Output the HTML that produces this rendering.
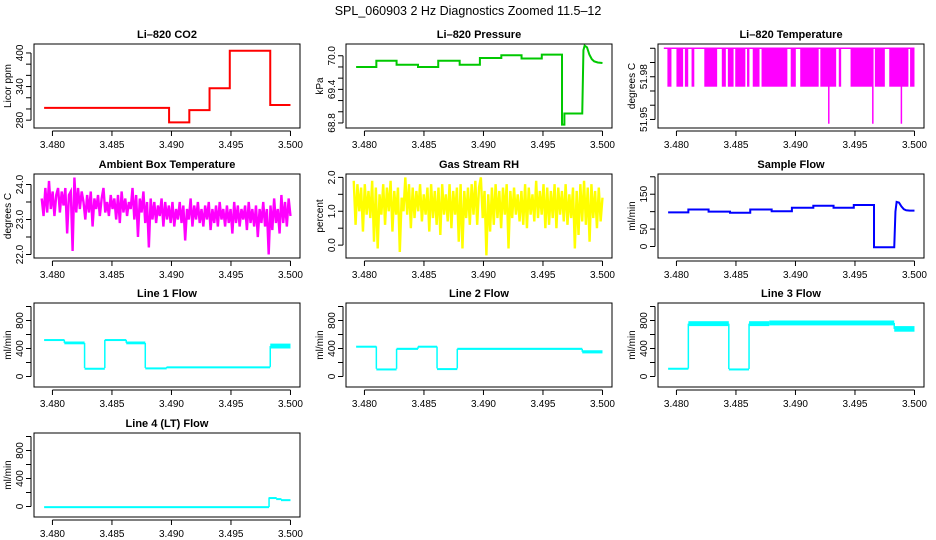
<!DOCTYPE html>
<html><head><meta charset="utf-8"><style>
body{margin:0;background:#fff;}
svg{display:block;font-family:"Liberation Sans",sans-serif;}
</style></head><body>
<svg id="c" width="936" height="540" viewBox="0 0 936 540">
<rect width="936" height="540" fill="#fff"/>
<text x="468" y="15" font-size="12.5" text-anchor="middle">SPL_060903  2 Hz Diagnostics Zoomed 11.5–12</text>
</svg>
<script>
// ---- data ----
const xTicks=[3.480,3.485,3.490,3.495,3.500];
const xTickLabels=["3.480","3.485","3.490","3.495","3.500"];
const coT=[3.4793,3.4898,3.4915,3.4932,3.4949,3.4983,3.5000];
const coV=[302,276,298,337,404,307];
const prT=[3.4793,3.4810,3.4827,3.4845,3.4862,3.4880,3.4897,3.4915,3.4932,3.4949,3.4966,3.4968,3.4983];
const prV=[69.80,69.91,69.84,69.80,69.91,69.84,69.96,70.01,69.95,70.02,68.77,68.97];
const prTailT=[3.4984,3.4985,3.4987,3.4989,3.4991,3.4993,3.4996,3.5000];
const prTailV=[70.10,70.18,70.15,70.02,69.94,69.90,69.88,69.87];
const tpBands=[[3.47924,3.47958],[3.4800,3.48056],[3.48071,3.48099],[3.48127,3.4815],[3.48234,3.48342],[3.48381,3.48415],[3.48432,3.4848],[3.48494,3.48579],[3.48593,3.48613],[3.48641,3.48698],[3.48715,3.48932],[3.4896,3.49003],[3.4904,3.49195],[3.49209,3.49342],[3.49364,3.49384],[3.49463,3.49653],[3.49667,3.49751],[3.49788,3.49949],[3.49963,3.5]];
const tpDrops=[3.4928,3.4965,3.4989];
const tpHigh=52.000, tpLow=51.973, tpDropV=51.947;
const ambT=[3.4791,3.5000];
const amb=[23.6,23.1,23.9,23.2,24.1,23.3,23.8,23.1,23.7,23.9,23.2,23.8,23.4,23.9,22.6,23.7,23.8,22.1,24.2,23.2,23.9,23.3,23.8,23.5,23.0,23.7,23.2,23.8,22.8,23.6,23.3,23.7,23.1,23.6,23.9,23.2,23.5,23.1,23.7,23.3,23.6,23.0,23.7,22.9,23.8,23.2,23.6,23.1,23.5,23.3,23.9,23.0,23.7,22.5,23.6,23.2,23.8,22.9,23.5,22.2,23.6,23.0,23.5,22.9,23.4,23.1,23.6,22.8,23.5,23.0,23.4,22.9,23.5,22.8,23.3,23.0,23.5,22.9,23.4,22.4,23.3,23.0,23.6,22.8,23.4,23.0,23.5,22.9,23.3,22.8,23.4,23.0,23.5,22.7,23.3,22.9,23.4,22.8,23.5,23.0,23.3,22.8,23.4,22.9,23.3,22.6,23.5,22.9,23.4,22.8,23.3,23.0,23.4,22.7,23.5,22.9,23.3,22.8,23.4,22.5,23.3,22.9,23.5,22.8,23.3,22.0,23.4,22.7,23.6,22.9,23.3,22.6,23.7,22.9,23.5,22.8,23.6,23.1];
const rhT=[3.4791,3.5000];
const rh=[1.9,0.6,1.8,1.0,1.7,0.4,1.8,0.9,1.6,0.8,1.9,0.1,1.7,-0.1,1.5,0.9,1.8,0.6,1.7,1.0,1.9,0.4,1.6,0.9,1.7,-0.2,1.4,1.0,2.0,0.9,1.8,0.5,1.7,0.8,1.6,1.0,1.8,0.7,1.5,0.9,1.7,0.4,1.8,0.8,1.6,0.6,1.7,0.3,1.8,0.9,1.5,0.7,1.8,0.5,1.6,0.9,1.7,0.1,1.8,-0.1,1.6,0.8,1.7,0.6,1.8,0.9,1.9,0.6,1.7,2.0,0.8,1.6,-0.3,1.5,0.4,1.7,0.6,1.8,0.8,1.6,0.5,1.7,0.9,1.8,-0.1,1.6,0.8,1.7,0.9,1.5,0.7,1.6,0.6,1.8,0.5,1.7,0.9,1.5,0.7,1.9,0.8,1.6,0.9,1.8,0.5,1.7,0.6,1.6,0.8,1.8,0.5,1.7,0.9,1.6,0.7,1.8,0.6,1.5,0.8,1.7,-0.1,1.6,0.3,1.8,0.7,1.9,0.6,1.7,0.1,1.8,0.8,1.6,0.5,1.7,0.7,1.4];
const sfT=prT;
const sfV=[98,106,100,97,106,101,111,117,111,119,-2,-2];
const sfTailT=prTailT;
const sfTailV=[100,128,126,115,107,104,103,103];
const l1=[[3.4793,3.4810,515,535],[3.4810,3.4827,460,500],[3.4827,3.4844,115,125],[3.4844,3.4862,510,535],[3.4862,3.4878,460,500],[3.4878,3.4896,115,130],[3.4896,3.4983,130,145],[3.4983,3.5000,400,470]];
const l2=[[3.4793,3.4810,420,440],[3.4810,3.4827,105,115],[3.4827,3.4845,380,410],[3.4845,3.4861,415,440],[3.4861,3.4878,110,120],[3.4878,3.4983,380,410],[3.4983,3.5000,330,375]];
const l3=[[3.4793,3.4810,100,125],[3.4810,3.4844,720,790],[3.4844,3.4861,100,115],[3.4861,3.4878,720,790],[3.4878,3.4983,730,800],[3.4983,3.5000,640,720]];
const l4=[[3.4793,3.4982,-20,5],[3.4982,3.4988,125,135],[3.4988,3.4992,110,120],[3.4992,3.5000,95,105]];
const flowTicks=[0,200,400,600,800,1000];
const flowLabels=["0","400","800"];

// ---- drawing ----
const svg=document.getElementById('c');
const NS='http://www.w3.org/2000/svg';
function mk(tag,attrs,parent){const e=document.createElementNS(NS,tag);for(const k in attrs)e.setAttribute(k,attrs[k]);(parent||svg).appendChild(e);return e;}
const colX=[0,312,624], rowY=[44,174,303,433], BH=84;
const XMIN=3.47845, XMAX=3.50080;
function panel(col,row,title,ylab,ymin,ymax,yticks,ylabels,name){
  const g=mk('g',{});
  
  
  const L=colX[col]+34,R=colX[col]+300,T=rowY[row],B=T+BH;
  const sx=t=>L+(t-XMIN)/(XMAX-XMIN)*(R-L);
  const sy=v=>B-(v-ymin)/(ymax-ymin)*BH;
  const tt=mk('text',{x:(L+R)/2,y:T-6,'font-size':11,'font-weight':'bold','text-anchor':'middle'},g);tt.textContent=title;
  
  
  const yl=mk('text',{x:0,y:0,'font-size':10,'text-anchor':'middle',transform:`translate(${colX[col]+11},${(T+B)/2}) rotate(-90)`},g);yl.textContent=ylab;
  
  
  const ax=mk('g',{stroke:'#000','stroke-width':1},g);
  
  
  mk('line',{x1:sx(xTicks[0]),x2:sx(xTicks[xTicks.length-1]),y1:B+3,y2:B+3},ax);
  xTicks.forEach((t,i)=>{mk('line',{x1:sx(t),x2:sx(t),y1:B+3,y2:B+8},ax);
    const lb=mk('text',{x:sx(t),y:B+20,'font-size':10,'text-anchor':'middle',stroke:'none'},g);lb.textContent=xTickLabels[i];
    
    });
  mk('line',{x1:L-3,x2:L-3,y1:sy(yticks[0]),y2:sy(yticks[yticks.length-1])},ax);
  yticks.forEach(v=>{mk('line',{x1:L-3,x2:L-8,y1:sy(v),y2:sy(v)},ax);});
  ylabels.forEach(s=>{const v=parseFloat(s);
    const lb=mk('text',{x:0,y:0,'font-size':10,'text-anchor':'middle',transform:`translate(${L-11},${sy(v)}) rotate(-90)`},g);lb.textContent=s;
    
    });
  const plot=mk('g',{},g);
  
  
  mk('rect',{x:L,y:T,width:R-L,height:BH,fill:'none',stroke:'#000'},g);
  return {sx,sy,plot};
}
function stepSeries(p,T,V,tailT,tailV,color,w){
  let pts=[];
  for(let i=0;i<V.length;i++){pts.push([p.sx(T[i]),p.sy(V[i])]);pts.push([p.sx(T[i+1]),p.sy(V[i])]);}
  if(tailT)for(let i=0;i<tailT.length;i++)pts.push([p.sx(tailT[i]),p.sy(tailV[i])]);
  mk('polyline',{points:pts.map(q=>q.join(',')).join(' '),fill:'none',stroke:color,'stroke-width':w},p.plot);
}
function noiseSeries(p,T,V,color){
  const dt=(T[1]-T[0])/(V.length-1);
  const pts=V.map((v,i)=>[p.sx(T[0]+i*dt),p.sy(v)]);
  mk('polyline',{points:pts.map(q=>q.join(',')).join(' '),fill:'none',stroke:color,'stroke-width':2.4},p.plot);
}
function bandSeries(p,segs,color){
  let prev=null;
  segs.forEach(s=>{const x0=p.sx(s[0]),x1=p.sx(s[1]),y0=p.sy(s[3]),y1=p.sy(s[2]);
    mk('rect',{x:x0,y:y0,width:x1-x0,height:Math.max(2,y1-y0),fill:color},p.plot);
    if(prev){mk('line',{x1:x0,x2:x0,y1:prev,y2:(y0+y1)/2,stroke:color,'stroke-width':1.5},p.plot);}
    prev=(y0+y1)/2;});
}
// CO2
let p=panel(0,0,'Li–820 CO2','Licor ppm',266,416,[280,300,320,340,360,380,400],['280','340','400'],'co2');
stepSeries(p,coT,coV,null,null,'#ff0000',2);
// Pressure
p=panel(1,0,'Li–820 Pressure','kPa',68.71,70.21,[68.8,69.0,69.2,69.4,69.6,69.8,70.0],['68.8','69.4','70.0'],'pressure');
stepSeries(p,prT,prV,prTailT,prTailV,'#00c800',2);
// Temperature
p=panel(2,0,'Li–820 Temperature','degrees C',51.944,52.003,[51.95,51.96,51.97,51.98,51.99,52.00],['51.95','51.98'],'li820-temperature');
tpBands.forEach(b=>{mk('rect',{x:p.sx(b[0]),y:p.sy(tpHigh),width:p.sx(b[1])-p.sx(b[0]),height:p.sy(tpLow)-p.sy(tpHigh),fill:'#ff00ff'},p.plot);});
mk('line',{x1:p.sx(tpBands[0][0]-0.0003),x2:p.sx(3.5),y1:p.sy(tpHigh),y2:p.sy(tpHigh),stroke:'#ff00ff','stroke-width':1.5},p.plot);
tpDrops.forEach(t=>{mk('line',{x1:p.sx(t),x2:p.sx(t),y1:p.sy(tpHigh),y2:p.sy(tpDropV),stroke:'#ff00ff','stroke-width':1.5},p.plot);});
// Ambient
p=panel(0,1,'Ambient Box Temperature','degrees C',21.9,24.3,[22.0,22.5,23.0,23.5,24.0],['22.0','23.0','24.0'],'ambient-temperature');
noiseSeries(p,ambT,amb,'#ff00ff');
// RH
p=panel(1,1,'Gas Stream RH','percent',-0.38,2.1,[0,0.5,1.0,1.5,2.0],['0.0','1.0','2.0'],'gas-stream-rh');
noiseSeries(p,rhT,rh,'#ffff00');
// Sample flow
p=panel(2,1,'Sample Flow','ml/min',-33,208,[0,50,100,150,200],['0','50','150'],'sample-flow');
stepSeries(p,sfT,sfV,sfTailT,sfTailV,'#0000ff',2);
// Line flows
p=panel(0,2,'Line 1 Flow','ml/min',-150,1050,flowTicks,flowLabels,'line1-flow');bandSeries(p,l1,'#00ffff');
p=panel(1,2,'Line 2 Flow','ml/min',-150,1050,flowTicks,flowLabels,'line2-flow');bandSeries(p,l2,'#00ffff');
p=panel(2,2,'Line 3 Flow','ml/min',-150,1050,flowTicks,flowLabels,'line3-flow');bandSeries(p,l3,'#00ffff');
p=panel(0,3,'Line 4 (LT) Flow','ml/min',-150,1050,flowTicks,flowLabels,'line4-flow');bandSeries(p,l4,'#00ffff');
</script>
</body></html>
